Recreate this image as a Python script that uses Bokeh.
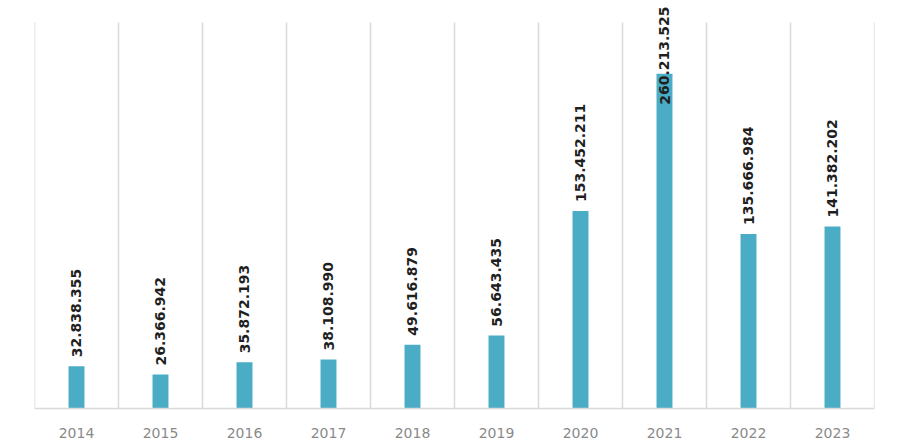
from bokeh.plotting import figure
from bokeh.models import Range1d, FixedTicker, ColumnDataSource
from bokeh.core.properties import value
from bokeh.embed import file_html
from bokeh.resources import INLINE

years = ["2014", "2015", "2016", "2017", "2018", "2019", "2020", "2021", "2022", "2023"]
amounts = [32838355, 26366942, 35872193, 38108990, 49616879, 56643435,
           153452211, 260213525, 135666984, 141382202]
labels = ["32.838.355", "26.366.942", "35.872.193", "38.108.990", "49.616.879",
          "56.643.435", "153.452.211", "260.213.525", "135.666.984", "141.382.202"]

Y_MAX = 300e6          # top of the gridlines
PX_PER_UNIT = 387 / Y_MAX
Y_END = 409 / PX_PER_UNIT   # top of the frame (room for labels)
LABEL_GAP = 9 / PX_PER_UNIT
LABEL_CAP = 236e6      # labels that would overflow are pushed down

n = len(years)
centers = [i + 0.5 for i in range(n)]
label_y = [min(v + LABEL_GAP, LABEL_CAP) for v in amounts]

src = ColumnDataSource(dict(x=centers, top=amounts, lab=labels, ly=label_y))

p = figure(width=896, height=440, output_backend="svg", toolbar_location=None,
           x_range=Range1d(0, n), y_range=Range1d(0, Y_END),
           y_axis_location=None, min_border_left=34, min_border_right=22,
           min_border_top=0, min_border_bottom=31)
p.outline_line_color = None
p.grid.visible = False
p.background_fill_color = "white"
p.border_fill_color = "white"

# category separators
sep_x = list(range(n + 1))
p.segment(x0=sep_x, x1=sep_x, y0=[0] * (n + 1), y1=[Y_MAX] * (n + 1),
          line_color="#d9d9d9", line_width=1.5)

p.vbar(x="x", top="top", width=0.19, bottom=0, source=src,
       fill_color="#4BACC6", line_color=None)

p.text(x="x", y="ly", text="lab", source=src, angle=1.5708,
       text_align="left", text_baseline="middle",
       text_font=value("DejaVu Sans"), text_font_style="bold",
       text_font_size="14px", text_color="#1f1f1f")

ax = p.xaxis[0]
ax.ticker = FixedTicker(ticks=centers)
ax.major_label_overrides = {c: y for c, y in zip(centers, years)}
ax.major_tick_line_color = None
ax.minor_tick_line_color = None
ax.axis_line_color = "#d9d9d9"
ax.axis_line_width = 1.5
ax.major_label_text_font = "DejaVu Sans"
ax.major_label_text_font_size = "14px"
ax.major_label_text_color = "#8a8a8a"
ax.major_label_standoff = 13

open("out.html", "w").write(file_html(p, INLINE))
